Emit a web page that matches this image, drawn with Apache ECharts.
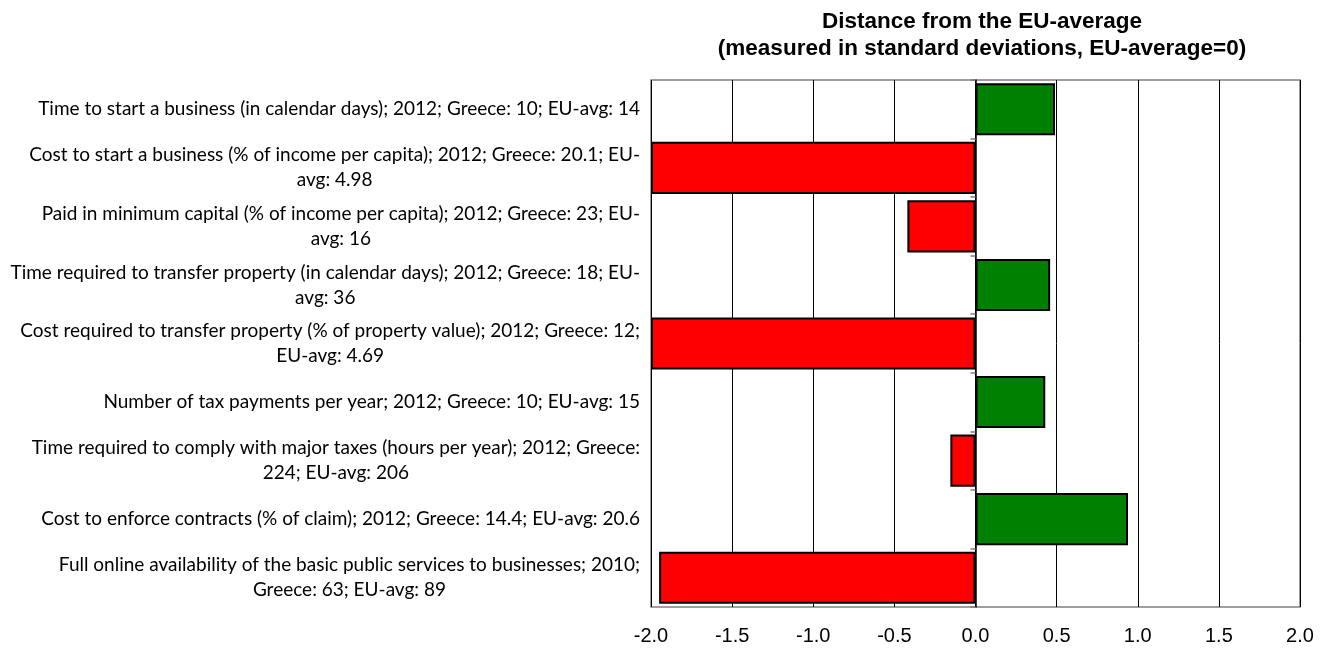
<!DOCTYPE html>
<html>
<head>
<meta charset="utf-8">
<script src="https://cdn.jsdelivr.net/npm/echarts@6/dist/echarts.min.js"></script>
<style>
  html, body { margin: 0; padding: 0; background: #fff; }
  #chart { width: 1327px; height: 648px; }
</style>
</head>
<body>
<div id="chart"></div>
<script>
// indicator labels (line breaks as in the original)
const categories = [
  ['Time to start a business (in calendar days); 2012; Greece: 10; EU-avg: 14'],
  ['Cost to start a business (% of income per capita); 2012; Greece: 20.1; EU-', 'avg: 4.98'],
  ['Paid in minimum capital (% of income per capita); 2012; Greece: 23; EU-', 'avg: 16'],
  ['Time required to transfer property (in calendar days); 2012; Greece: 18; EU-', 'avg: 36'],
  ['Cost required to transfer property (% of property value); 2012; Greece: 12;', 'EU-avg: 4.69'],
  ['Number of tax payments per year; 2012; Greece: 10; EU-avg: 15'],
  ['Time required to comply with major taxes (hours per year); 2012; Greece:', '224; EU-avg: 206'],
  ['Cost to enforce contracts (% of claim); 2012; Greece: 14.4; EU-avg: 20.6'],
  ['Full online availability of the basic public services to businesses; 2010;', 'Greece: 63; EU-avg: 89']
];

// distance from EU average, in standard deviations
const distance = [0.49, -2.0, -0.42, 0.46, -2.0, 0.43, -0.155, 0.94, -1.95];

const xTicks = { min: -2, max: 2, step: 0.5 };

const chart = echarts.init(document.getElementById('chart'));

const catKeys = categories.map((_, i) => 'c' + i);

const option = {
  animation: false,
  title: {
    text: 'Distance from the EU-average\n(measured in standard deviations, EU-average=0)',
    left: 977,
    top: 3,
    textAlign: 'center',
    textStyle: {
      fontFamily: 'Liberation Sans, Arial',
      fontWeight: 'bold',
      fontSize: 22.5,
      lineHeight: 27,
      color: '#000'
    }
  },
  grid: {
    left: 651,
    right: 27,
    top: 80,
    bottom: 41,
    show: true,
    borderColor: '#7f7f7f',
    borderWidth: 1.5,
    containLabel: false
  },
  xAxis: {
    type: 'value',
    min: xTicks.min,
    max: xTicks.max,
    interval: xTicks.step,
    axisLine: { show: false },
    axisTick: { show: false },
    axisLabel: {
      formatter: v => v.toFixed(1),
      fontFamily: 'Liberation Sans, Arial',
      fontSize: 20,
      color: '#000',
      margin: 19
    },
    splitLine: { lineStyle: { color: '#000', width: 1 } }
  },
  yAxis: [
    {
      type: 'category',
      data: catKeys,
      inverse: true,
      position: 'left',
      axisLine: { show: false, onZero: false },
      axisTick: { show: false },
      axisLabel: {
        margin: 11,
        formatter: (v, i) => categories[i].map(l => '{c|' + l + '}').join('\n'),
        rich: {
          c: {
            align: 'center',
            fontFamily: 'Lato',
            fontSize: 19,
            lineHeight: 25,
            color: '#000'
          }
        }
      }
    },
    {
      type: 'category',
      data: catKeys,
      inverse: true,
      position: 'right',
      axisLine: { show: true, onZero: true, lineStyle: { color: '#000', width: 1.5 } },
      axisTick: { show: true, inside: true, length: 5, lineStyle: { color: '#7f7f7f', width: 1.5 } },
      axisLabel: { show: false }
    }
  ],
  series: [{
    type: 'bar',
    yAxisIndex: 0,
    data: distance.map(v => ({
      value: v,
      itemStyle: { color: v >= 0 ? '#008000' : '#ff0000' }
    })),
    barCategoryGap: '11%',
    itemStyle: { borderColor: '#000', borderWidth: 2 }
  }]
};

chart.setOption(option);
window.addEventListener('resize', () => chart.resize());
</script>
</body>
</html>
